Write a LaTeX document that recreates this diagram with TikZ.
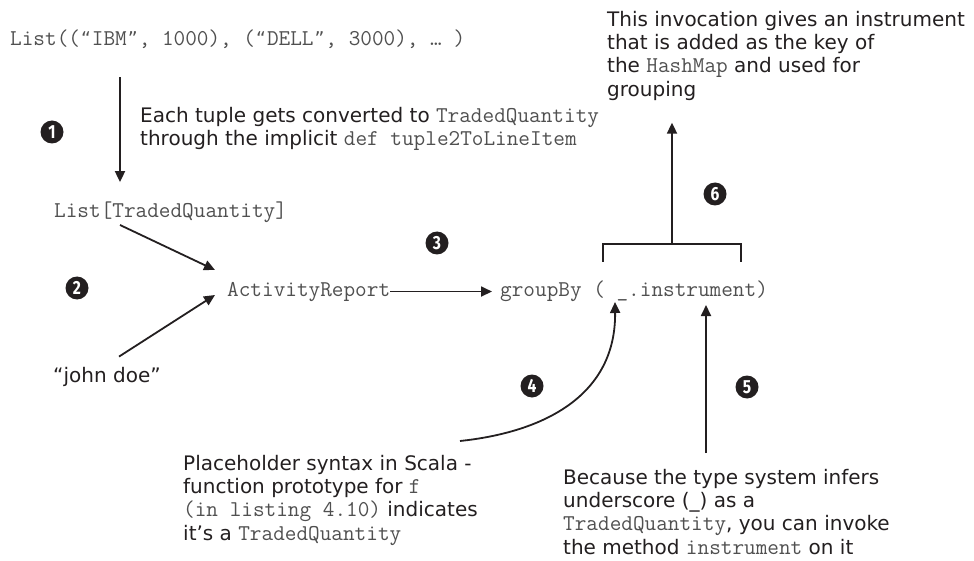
\documentclass[tikz,border=0pt]{standalone}
\usepackage{fontspec}
\setmainfont{DejaVu Sans}
\newfontfamily\numfont[FakeStretch=0.82]{Fira Sans}
\usetikzlibrary{arrows.meta}
\definecolor{codegray}{HTML}{505050}
\definecolor{ink}{HTML}{231F20}
\newcommand{\cd}[1]{{\ttfamily\fontsize{22.6}{23.3}\selectfont\color{codegray}#1}}
\newcommand{\opq}{\makebox[11.9pt]{\rmfamily\fontsize{19}{23.3}\selectfont “}}
\newcommand{\clq}{\makebox[11.9pt]{\rmfamily\fontsize{19}{23.3}\selectfont ”}}
\tikzset{
  code/.style={font=\ttfamily\fontsize{22.6}{23.3}\selectfont, text=codegray, inner sep=0pt, anchor=base west},
  note/.style={font=\fontsize{20}{23.3}\selectfont, text=ink, inner sep=0pt, align=left, anchor=north west},
  num/.style={circle, fill=ink, text=white, inner sep=0pt, minimum size=23pt, font=\numfont\bfseries\fontsize{19}{19}\selectfont},
  arr/.style={-{Triangle[length=11pt,width=10pt]}, line width=1.8pt, draw=ink},
  brace line/.style={line width=1.1pt, draw=ink}
}
\begin{document}
\begin{tikzpicture}[x=1pt,y=-1pt]
  \useasboundingbox (0,0) rectangle (974,561);
  % code on the main line
  \node[code] (listin) at (10,46) {List((\opq IBM\clq, 1000), (\opq DELL\clq, 3000), … )};
  \node[code] (listtq) at (54,218) {List[TradedQuantity]};
  \node[code] (activity) at (227,296) {ActivityReport};
  \node[code] (groupby) at (500,297) {groupBy ( \_.instrument)};
  \node[note, anchor=base west] (john) at (53,382) {“john doe”};

  % notes
  \node[note] (note1) at (140,107) {Each tuple gets converted to \cd{TradedQuantity}\\through the implicit \cd{def tuple2ToLineItem}};
  \node[note] (note6) at (607,11) {This invocation gives an instrument\\that is added as the key of\\the \cd{HashMap} and used for\\grouping};
  \node[note] (note4) at (183,455) {Placeholder syntax in Scala -\\function prototype for \cd{f}\\\cd{(in listing 4.10)} indicates\\it’s a \cd{TradedQuantity}};
  \node[note] (note5) at (563,469) {Because the type system infers\\underscore (\_) as a\\\cd{TradedQuantity}, you can invoke\\the method \cd{instrument} on it};

  % numbers
  \node[num] (n1) at (52,132) {1};
  \node[num] (n2) at (77,288) {2};
  \node[num] (n3) at (437,243) {3};
  \node[num] (n4) at (532,386) {4};
  \node[num] (n5) at (747,387) {5};
  \node[num] (n6) at (715,194) {6};

  % arrows
  \coordinate (c1) at ([xshift=110pt]listin.base west);
  \draw[arr, shorten <=28pt, shorten >=20pt] (listin.south -| c1) -- (listtq.north -| c1);
  \draw[arr] ([xshift=66pt,yshift=-7pt]listtq.base west) -- ([xshift=-12pt,yshift=26pt]activity.base west);
  \draw[arr] ([xshift=66pt,yshift=10pt]john.north west) -- ([xshift=-12pt,yshift=1pt]activity.base west);
  \draw[arr, shorten >=8pt] (activity.east) -- (activity.east -| groupby.west);
  \draw[arr] ([xshift=277pt,yshift=14pt]note4.north west) .. controls +(85,-9) and +(1,93) .. ([xshift=115pt,yshift=-5pt]groupby.base west);
  \coordinate (c5) at ([xshift=206pt]groupby.base west);
  \draw[arr, shorten <=16pt, shorten >=8pt] (note5.north -| c5) -- (groupby.base -| c5);

  % bracket over the argument
  \coordinate (brl) at ([xshift=103pt,yshift=35pt]groupby.base west);
  \coordinate (brr) at ([xshift=241pt,yshift=35pt]groupby.base west);
  \coordinate (brm) at ([xshift=172pt,yshift=53pt]groupby.base west);
  \draw[brace line] (brl) |- (brm) -| (brr);
  \draw[arr, shorten >=22pt] (brm) -- (note6.south -| brm);
\end{tikzpicture}
\end{document}
